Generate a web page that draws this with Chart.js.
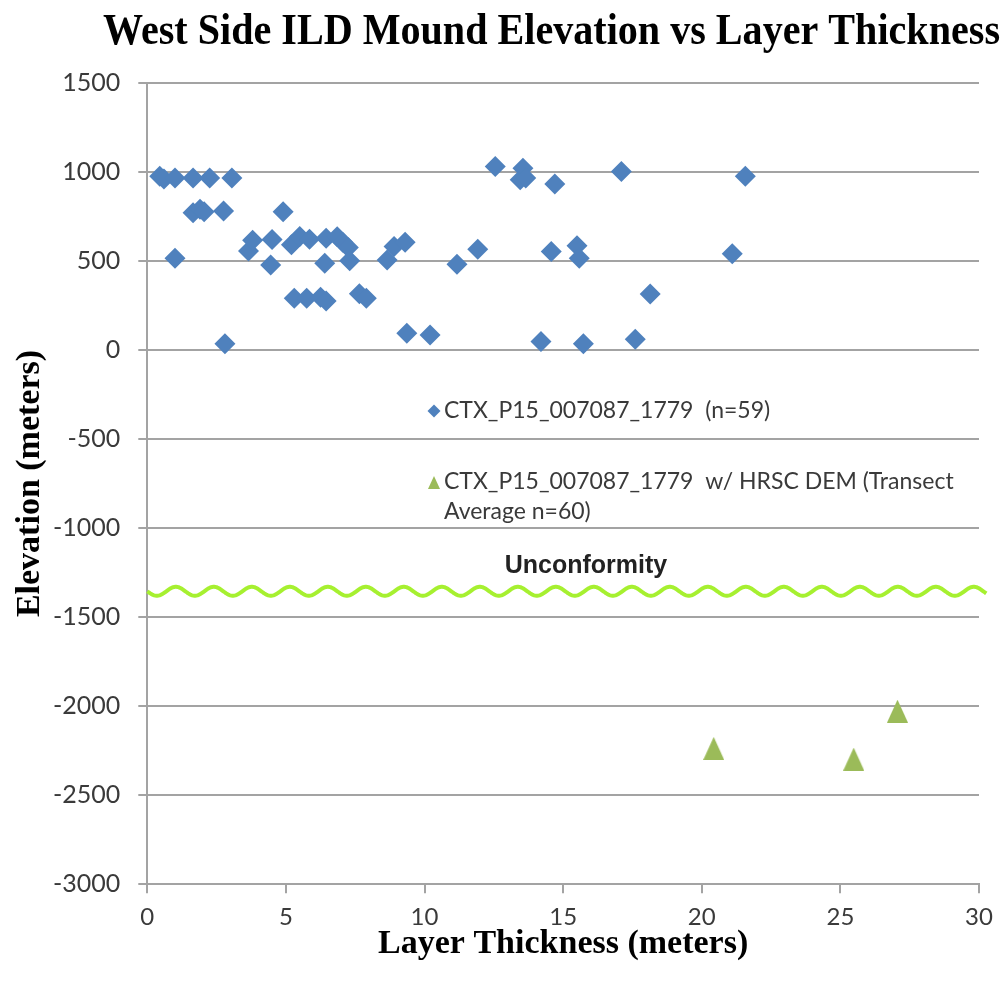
<!DOCTYPE html>
<html>
<head>
<meta charset="utf-8">
<title>West Side ILD Mound Elevation vs Layer Thickness</title>
<script src="https://cdn.jsdelivr.net/npm/chart.js@4/dist/chart.umd.min.js"></script>
<style>
  html, body { margin: 0; padding: 0; background: #ffffff; }
  #wrap { width: 1005px; height: 987px; }
</style>
</head>
<body>
<div id="wrap"><canvas id="chart" width="1005" height="987"></canvas></div>
<script>
// Layer thickness (m) and elevation (m) for the CTX transects
const ctxThickness = [0.45, 0.6, 1.0, 1.0, 1.65, 1.65, 1.9, 2.05, 2.25, 2.75, 2.8, 3.05, 3.65, 3.8,
  4.45, 4.5, 4.9, 5.2, 5.3, 5.5, 5.75, 5.85, 6.25, 6.4, 6.45, 6.45, 6.85, 7.05, 7.25, 7.3, 7.65, 7.9,
  8.65, 8.9, 9.3, 9.36, 10.2, 11.17, 11.92, 12.55, 13.45, 13.55, 13.65, 14.2, 14.57, 14.7, 15.5, 15.58,
  15.73, 17.1, 17.6, 18.14, 21.1, 21.57];
const ctxElevation = [975, 960, 965, 515, 965, 770, 790, 775, 965, 780, 35, 965, 555, 615,
  477, 620, 775, 590, 290, 636, 290, 621, 295, 487, 627, 275, 635, 605, 575, 500, 315, 290,
  505, 580, 605, 94, 84, 481, 565, 1029, 955, 1020, 965, 47, 552, 932, 584, 515,
  34, 1001, 60, 314, 540, 975];

// Transect averages using the HRSC DEM
const hrscThickness = [20.43, 25.48, 27.06];
const hrscElevation = [-2237, -2297, -2028];

// Axis ticks
const xTicks = [0, 5, 10, 15, 20, 25, 30];
const yTicks = [1500, 1000, 500, 0, -500, -1000, -1500, -2000, -2500, -3000];

// Elevation of the unconformity marker
const unconformityElevation = -1355;

const chartTitle = 'West Side ILD Mound Elevation vs Layer Thickness';
const legendLabels = [
  ['CTX_P15_007087_1779  (n=59)'],
  ['CTX_P15_007087_1779  w/ HRSC DEM (Transect', 'Average n=60)']
];

const BLUE = '#4f81bd';
const GREEN = '#9bbb59';
const GRID = '#a3a3a3';
const TEXT = '#3a3a3a';
const SERIF = '"Liberation Serif", "Times New Roman", serif';
const SANS = 'Lato, "Open Sans", sans-serif';

// Excel-style triangle marker (slightly taller than wide)
function triangleMarker(w, h, color) {
  const c = document.createElement('canvas');
  c.width = w; c.height = h;
  const g = c.getContext('2d');
  g.fillStyle = color;
  g.beginPath();
  g.moveTo(w / 2, 0);
  g.lineTo(w, h);
  g.lineTo(0, h);
  g.closePath();
  g.fill();
  return c;
}
const triBig = triangleMarker(21, 23, GREEN);
const triSmall = triangleMarker(12, 13, GREEN);

const toPoints = (xs, ys) => xs.map((x, i) => ({ x: x, y: ys[i] }));

// Condensed bold heading across the top
const headingPlugin = {
  id: 'heading',
  afterDraw(chart) {
    const { ctx } = chart;
    ctx.save();
    ctx.font = 'bold 45px ' + SERIF;
    ctx.fillStyle = '#000000';
    ctx.textBaseline = 'alphabetic';
    ctx.textAlign = 'left';
    const natural = ctx.measureText(chartTitle).width;
    const targetW = 897;
    ctx.translate(103, 44);
    ctx.scale(targetW / natural, 1);
    ctx.fillText(chartTitle, 0, 0);
    ctx.restore();
  }
};

// Wavy line marking the unconformity, plus its label
const unconformityPlugin = {
  id: 'unconformity',
  afterDatasetsDraw(chart) {
    const { ctx, chartArea, scales } = chart;
    const yc = scales.y.getPixelForValue(unconformityElevation);
    const x0 = chartArea.left;
    const x1 = chartArea.right + 8;
    const period = 38, amp = 4.5;
    ctx.save();
    ctx.strokeStyle = '#a6f030';
    ctx.lineWidth = 4;
    ctx.lineJoin = 'round';
    ctx.beginPath();
    for (let x = x0; x <= x1; x += 1) {
      const y = yc + amp * Math.sin((x - x0) / period * Math.PI * 2);
      if (x === x0) ctx.moveTo(x, y); else ctx.lineTo(x, y);
    }
    ctx.stroke();
    ctx.fillStyle = '#222222';
    ctx.font = 'bold 25px "Liberation Sans", Arial, sans-serif';
    ctx.textAlign = 'center';
    ctx.textBaseline = 'middle';
    ctx.fillText('Unconformity', 586, yc - 25);
    ctx.restore();
  }
};

// Legend placed inside the plot area
const innerLegendPlugin = {
  id: 'innerLegend',
  afterDatasetsDraw(chart) {
    const { ctx } = chart;
    ctx.save();
    ctx.font = '23px ' + SANS;
    ctx.textAlign = 'left';
    ctx.textBaseline = 'middle';
    const dx = 434, dy = 411, r = 6.5;
    ctx.fillStyle = BLUE;
    ctx.beginPath();
    ctx.moveTo(dx - r, dy); ctx.lineTo(dx, dy - r); ctx.lineTo(dx + r, dy); ctx.lineTo(dx, dy + r);
    ctx.closePath(); ctx.fill();
    ctx.fillStyle = TEXT;
    ctx.fillText(legendLabels[0][0], 444, 411);
    ctx.drawImage(triSmall, 428, 476);
    ctx.fillText(legendLabels[1][0], 444, 482);
    ctx.fillText(legendLabels[1][1], 444, 512);
    ctx.restore();
  }
};

const plainNumber = v => String(v);

const chart = new Chart(document.getElementById('chart'), {
  type: 'scatter',
  data: {
    datasets: [
      {
        label: legendLabels[0][0],
        data: toPoints(ctxThickness, ctxElevation),
        pointStyle: 'rectRot',
        pointRadius: 10.5,
        pointHoverRadius: 10.5,
        backgroundColor: BLUE,
        borderColor: BLUE,
        borderWidth: 0
      },
      {
        label: legendLabels[1].join(' '),
        data: toPoints(hrscThickness, hrscElevation),
        pointStyle: triBig,
        pointRadius: 11,
        backgroundColor: GREEN,
        borderColor: GREEN
      }
    ]
  },
  options: {
    responsive: false,
    animation: false,
    layout: { padding: { left: 0, right: 26, top: 82.7, bottom: 0 } },
    plugins: {
      legend: { display: false },
      tooltip: { enabled: false },
      title: { display: false }
    },
    scales: {
      x: {
        type: 'linear',
        min: xTicks[0],
        max: xTicks[xTicks.length - 1],
        afterBuildTicks(scale) { scale.ticks = xTicks.map(v => ({ value: v })); },
        afterFit(scale) { scale.height = 102.7; },
        grid: { drawOnChartArea: false, drawTicks: true, tickLength: 9, color: GRID, lineWidth: 2 },
        border: { display: true, color: GRID, width: 2 },
        ticks: {
          color: TEXT,
          padding: 10,
          maxRotation: 0,
          callback: plainNumber,
          font: { family: SANS, size: 24 }
        },
        title: {
          display: true,
          text: 'Layer Thickness (meters)',
          color: '#000000',
          padding: { top: 4, bottom: 22 },
          font: { family: SERIF, size: 34, weight: 'bold' }
        }
      },
      y: {
        type: 'linear',
        min: yTicks[yTicks.length - 1],
        max: yTicks[0],
        afterBuildTicks(scale) { scale.ticks = yTicks.slice().reverse().map(v => ({ value: v })); },
        afterFit(scale) { scale.width = 147.3; },
        grid: { drawOnChartArea: true, drawTicks: true, tickLength: 9, color: GRID, lineWidth: 2 },
        border: { display: true, color: GRID, width: 2 },
        ticks: {
          color: TEXT,
          padding: 18,
          callback: plainNumber,
          font: { family: SANS, size: 25 }
        },
        title: {
          display: true,
          text: 'Elevation (meters)',
          color: '#000000',
          padding: { top: 10, bottom: 0 },
          font: { family: SERIF, size: 34, weight: 'bold' }
        }
      }
    }
  },
  plugins: [headingPlugin, unconformityPlugin, innerLegendPlugin]
});
</script>
</body>
</html>
